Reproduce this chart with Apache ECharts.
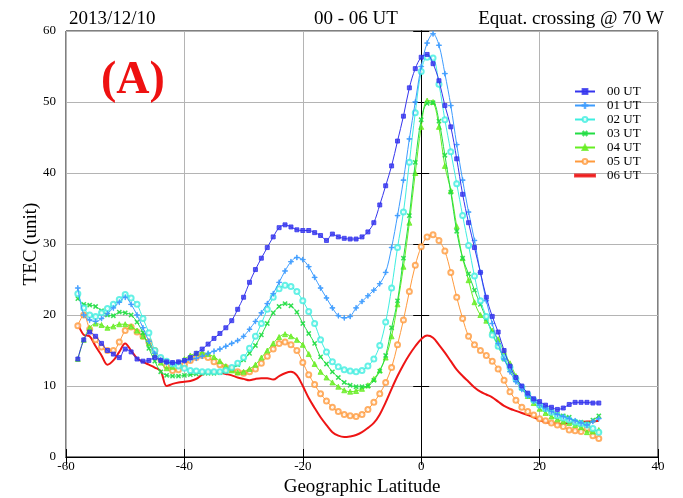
<!DOCTYPE html>
<html>
<head>
<meta charset="utf-8">
<script src="https://cdn.jsdelivr.net/npm/echarts@6/dist/echarts.min.js"></script>
<style>html,body{margin:0;padding:0;background:#fff}#c{width:683px;height:498px}</style>
</head>
<body>
<div id="c"></div>
<script>
// Geographic latitude (degrees), 1-degree steps from -58 to 30
const lats = [];
for (let v = -58; v <= 30; v++) lats.push(v);

const seriesNames = ['00 UT','01 UT','02 UT','03 UT','04 UT','05 UT','06 UT'];

const ut00 = [13.8,16.5,17.6,17.0,16.0,15.0,14.5,14.0,15.2,14.8,13.8,13.5,13.6,14.0,13.6,13.4,13.3,13.4,13.6,14.0,14.6,15.2,15.9,16.7,17.4,18.2,19.2,20.8,22.5,24.6,26.4,28.0,29.5,31.0,32.3,32.7,32.4,32.0,31.9,31.9,31.6,31.2,30.5,31.4,31.0,30.8,30.7,30.7,31.0,31.7,33.0,35.5,38.2,41.0,44.5,48.0,52.0,54.7,56.3,56.7,55.4,53.0,49.5,46.5,42.0,37.0,33.0,29.5,26.0,22.5,19.8,17.6,15.0,12.8,11.2,10.0,9.0,8.2,7.8,7.3,7.0,6.7,6.9,7.4,7.7,7.7,7.7,7.6,7.6];
const ut01 = [23.8,20.0,19.3,19.1,19.5,20.2,21.0,21.8,22.5,21.5,20.0,18.2,16.3,14.6,13.7,13.3,13.2,13.3,13.5,13.7,13.9,14.2,14.6,14.9,15.2,15.6,16.0,16.4,17.0,18.0,19.1,20.3,21.6,23.0,24.6,26.2,27.5,28.1,27.8,26.8,25.3,23.8,22.4,21.0,19.9,19.6,19.8,21.0,21.9,22.7,23.5,24.4,26.0,29.5,34.0,39.0,44.8,50.0,55.0,58.3,59.6,58.0,54.0,49.5,44.0,39.0,34.5,30.5,26.0,22.0,18.8,16.0,13.8,12.0,10.6,9.5,8.6,7.9,7.3,6.8,6.4,6.0,5.7,5.4,5.1,4.8,4.5,5.0,5.4];
const ut02 = [23.0,21.0,20.0,19.8,20.3,20.9,21.5,22.2,22.9,22.4,21.5,19.5,17.5,15.0,14.0,13.5,13.1,12.8,12.5,12.2,12.1,12.0,12.0,12.0,12.0,12.2,12.6,13.2,14.0,15.3,17.0,18.8,20.8,22.5,23.7,24.2,24.0,23.3,22.0,20.5,18.8,16.5,14.8,13.4,12.7,12.3,12.1,12.0,12.2,12.8,13.8,15.7,19.0,23.8,29.5,34.5,41.5,48.5,54.3,56.3,56.2,52.5,47.5,43.0,38.5,34.0,29.8,25.5,22.0,19.8,17.2,15.6,14.0,12.6,11.0,9.8,8.8,8.0,7.3,6.8,6.3,5.8,5.5,5.2,4.9,4.7,4.5,4.0,3.5];
const ut03 = [22.3,21.5,21.4,21.2,20.6,20.0,19.9,20.4,20.3,20.0,19.0,17.5,15.3,13.5,12.0,11.5,11.4,11.4,11.5,11.6,11.7,11.8,11.8,11.8,11.9,12.1,12.5,13.0,13.7,14.6,15.7,17.2,18.8,20.3,21.2,21.6,21.3,20.4,18.8,17.4,16.0,14.1,13.1,12.0,11.2,10.5,10.1,9.9,9.9,10.0,10.8,12.1,14.3,18.2,22.0,28.0,34.0,41.5,47.5,49.8,49.9,47.3,42.5,37.3,31.8,28.0,25.8,23.5,21.5,19.5,17.5,15.6,13.8,12.3,10.9,9.7,8.8,8.0,7.3,6.8,6.4,6.0,5.8,5.6,5.0,4.9,4.7,5.2,5.8];
const ut04 = [13.8,16.5,18.2,18.8,18.6,18.2,18.4,18.7,18.7,18.4,17.8,17.0,16.0,14.5,13.3,12.5,12.7,13.3,13.8,14.3,14.6,14.7,14.5,14.1,13.5,12.8,12.2,11.9,12.0,12.4,13.0,14.0,15.0,16.0,16.9,17.3,17.0,16.5,15.8,14.5,13.1,12.0,11.2,10.5,9.9,9.4,9.2,9.3,9.6,10.1,11.0,12.2,14.0,17.0,21.5,26.8,33.0,40.0,46.5,50.2,50.0,46.5,41.0,37.5,32.5,28.0,24.9,21.8,20.0,19.2,17.8,16.6,14.8,13.2,11.4,9.8,8.6,7.6,6.8,6.2,5.7,5.3,5.0,4.8,4.5,4.2,3.5,3.6,3.8];
const ut05 = [18.5,20.0,18.0,16.5,15.5,15.0,15.0,16.2,17.8,18.3,17.6,17.0,16.2,15.0,13.8,12.8,12.2,12.3,13.0,13.6,14.0,14.3,14.0,13.4,13.0,12.6,12.4,12.0,11.8,12.0,12.4,13.2,14.2,15.2,16.0,16.2,15.8,15.0,13.3,11.6,10.2,8.9,7.9,7.0,6.4,6.0,5.8,5.7,6.0,6.7,7.7,8.9,10.5,12.6,15.8,19.3,23.3,27.0,29.6,31.0,31.3,30.5,29.0,26.0,22.5,19.5,17.0,15.8,15.0,14.3,13.5,12.4,10.8,9.2,8.0,7.0,6.4,5.9,5.4,5.1,4.8,4.5,4.3,3.8,3.7,3.6,4.0,3.0,2.6];
const ut06 = [18.8,17.2,17.0,15.6,14.3,13.0,13.6,14.8,16.0,15.0,13.9,13.4,13.0,12.6,12.1,10.0,10.3,10.5,10.6,10.7,11.0,11.6,12.0,12.0,11.9,11.7,11.5,11.2,11.0,10.8,11.0,11.1,11.1,10.9,11.4,11.8,12.0,11.5,10.0,8.3,6.9,5.6,4.5,3.5,3.0,2.8,2.9,3.1,3.5,4.1,4.8,6.0,7.7,9.6,11.4,13.0,14.4,15.6,16.6,17.1,16.8,15.8,14.7,13.5,12.3,11.4,10.6,9.8,9.2,8.8,8.4,7.8,7.2,6.8,6.5,6.2,5.9,5.6,5.2,4.9,4.8,4.7,4.7,4.8,4.9,4.9,5.0,5.0,5.1];

const xTicks = {min: -60, max: 40, interval: 20};
const yTicks = {min: 0, max: 60, interval: 10};

const FONT = 'Liberation Serif';
const values = [ut00, ut01, ut02, ut03, ut04, ut05, ut06];
const colors = ['#3535ee','#3d9cff','#3eeee0','#22dd44','#66ee22','#ff9a3c','#ee1515'];
const plusPath = 'path://M4,0h1v4h4v1h-4v4h-1v-4h-4v-1h4z';
const symbols = ['rect', plusPath, 'emptyCircle', plusPath, 'triangle', 'emptyCircle', 'none'];
const symSizes = [4, 5, 5, 5, 5, 5, 0];
const symRot = [0, 0, 0, 45, 0, 0, 0];

const series = values.map((arr, k) => ({
  name: seriesNames[k],
  type: 'line',
  data: lats.map((x, i) => [x, arr[i]]),
  smooth: 0.35,
  symbol: symbols[k],
  symbolSize: symSizes[k],
  symbolRotate: symRot[k],
  showSymbol: k !== 6,
  lineStyle: {color: colors[k], width: k === 6 ? 2 : 1},
  itemStyle: {color: colors[k], borderColor: colors[k], borderWidth: 1, opacity: 0.8},
  animation: false,
  z: 10 - k
}));

const legendData = seriesNames.map((n, k) => k === 6
  ? {name: n, icon: 'path://M0,0h20v2h-20z', itemStyle: {color: colors[6]}}
  : {name: n});

const chart = echarts.init(document.getElementById('c'), null, {renderer: 'canvas'});
chart.setOption({
  backgroundColor: '#fff',
  animation: false,
  textStyle: {fontFamily: FONT},
  title: [
    {text: '2013/12/10', left: 64, top: 5, textStyle: {fontFamily: FONT, fontSize: 19, fontWeight: 'normal', color: '#000'}},
    {text: '00 - 06 UT', left: 309, top: 5, textStyle: {fontFamily: FONT, fontSize: 19, fontWeight: 'normal', color: '#000'}},
    {text: 'Equat. crossing @ 70 W', right: 14, top: 5, textStyle: {fontFamily: FONT, fontSize: 19, fontWeight: 'normal', color: '#000'}},
    {text: '(A)', left: 96, top: 53, textStyle: {fontFamily: FONT, fontSize: 46, fontWeight: 'bold', color: '#ee1111'}}
  ],
  grid: {left: 66, right: 25, top: 31, bottom: 41, show: true, borderColor: '#000', borderWidth: 1,
         containLabel: false, outerBoundsMode: 'none'},
  legend: {
    data: legendData,
    orient: 'vertical',
    left: 569,
    top: 80,
    itemWidth: 20,
    itemHeight: 6,
    itemGap: 1,
    textStyle: {fontFamily: FONT, fontSize: 13, color: '#000', padding: [0, 0, 0, 7], lineHeight: 13}
  },
  xAxis: [
    {type: 'value', min: xTicks.min, max: xTicks.max, interval: xTicks.interval, position: 'bottom',
     name: 'Geographic Latitude', nameLocation: 'middle', nameGap: 20,
     nameTextStyle: {fontFamily: FONT, fontSize: 19, color: '#000'},
     axisLine: {show: true, lineStyle: {color: '#000'}},
     axisTick: {inside: true, length: 8, lineStyle: {color: '#000'}},
     axisLabel: {fontFamily: FONT, fontSize: 13, color: '#000', margin: 3},
     splitLine: {show: true, lineStyle: {color: '#b4b4b4', width: 1}}},
    {type: 'value', min: xTicks.min, max: xTicks.max, interval: xTicks.interval, position: 'top',
     axisLine: {show: true, lineStyle: {color: '#000'}},
     axisTick: {inside: true, length: 8, lineStyle: {color: '#000'}},
     axisLabel: {show: false}, splitLine: {show: false}}
  ],
  yAxis: [
    {type: 'value', min: yTicks.min, max: yTicks.max, interval: yTicks.interval, position: 'left',
     name: 'TEC (unit)', nameLocation: 'middle', nameGap: 25, nameMoveOverlap: false,
     nameTextStyle: {fontFamily: FONT, fontSize: 19, color: '#000'},
     axisLine: {show: true, lineStyle: {color: '#000'}},
     axisTick: {inside: true, length: 8, lineStyle: {color: '#000'}},
     axisLabel: {fontFamily: FONT, fontSize: 13, color: '#000', margin: 10},
     splitLine: {show: true, lineStyle: {color: '#b4b4b4', width: 1}}},
    {type: 'value', min: yTicks.min, max: yTicks.max, interval: yTicks.interval, position: 'right',
     axisLine: {show: true, lineStyle: {color: '#000'}},
     axisTick: {inside: true, length: 8, lineStyle: {color: '#000'}},
     axisLabel: {show: false}, splitLine: {show: false}}
  ],
  series: series
});
</script>
</body>
</html>
